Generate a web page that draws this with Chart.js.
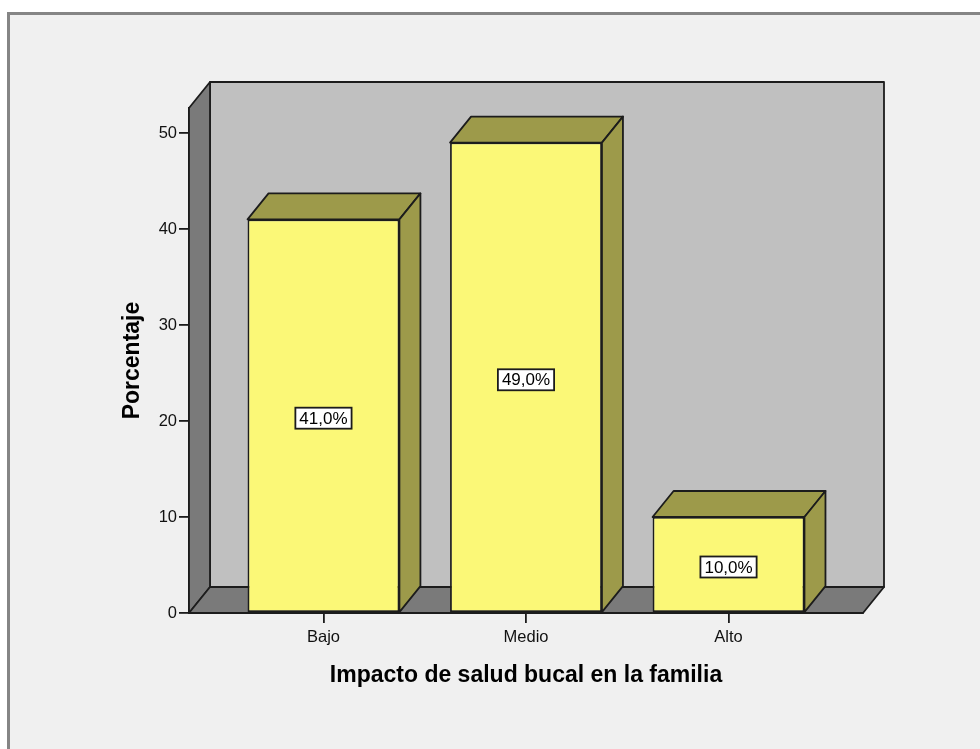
<!DOCTYPE html>
<html>
<head>
<meta charset="utf-8">
<title>Impacto de salud bucal en la familia</title>
<script src="https://cdn.jsdelivr.net/npm/chart.js@4.4.1/dist/chart.umd.min.js"></script>
<style>
  html, body { margin: 0; padding: 0; background: #fff; }
  canvas { display: block; }
</style>
</head>
<body>
<canvas id="chart" width="980" height="749"></canvas>
<script>
const categories = ['Bajo', 'Medio', 'Alto'];
const percentages = [41.0, 49.0, 10.0];
const yTicks = [0, 10, 20, 30, 40, 50];

const FONT = "'Liberation Sans', Arial, Helvetica, sans-serif";
// offset of the back plane, in pixels
const DX = 21, DY = -26;
const FRONT = '#fbf877';
const SHADE = '#9d9a4a';
const WALL = '#c0c0c0';
const FLOOR = '#7a7a7a';
const EDGE = '#1c1c1c';
const LW = 1.8;

function poly(ctx, pts, fill) {
  ctx.beginPath();
  ctx.moveTo(pts[0][0], pts[0][1]);
  for (let i = 1; i < pts.length; i++) ctx.lineTo(pts[i][0], pts[i][1]);
  ctx.closePath();
  ctx.fillStyle = fill;
  ctx.fill();
  ctx.stroke();
}

// grey panel with a border along the top and left
const frame = {
  id: 'frame',
  beforeDraw(chart) {
    const ctx = chart.ctx;
    ctx.save();
    ctx.fillStyle = '#fff';
    ctx.fillRect(0, 0, chart.width, chart.height);
    ctx.fillStyle = '#f0f0f0';
    ctx.fillRect(7, 12, chart.width, chart.height);
    ctx.strokeStyle = '#858585';
    ctx.lineWidth = 3;
    ctx.beginPath();
    ctx.moveTo(8.5, chart.height + 5);
    ctx.lineTo(8.5, 13.5);
    ctx.lineTo(chart.width + 5, 13.5);
    ctx.stroke();
    ctx.restore();
  }
};

// back wall, side wall, floor and the top/right faces of each bar
const box3d = {
  id: 'box3d',
  beforeDatasetsDraw(chart) {
    const ctx = chart.ctx;
    const a = chart.chartArea;
    const y0 = chart.scales.y.getPixelForValue(0);
    ctx.save();
    ctx.strokeStyle = EDGE;
    ctx.lineWidth = LW;
    ctx.lineJoin = 'round';
    poly(ctx, [[a.left + DX, a.top + DY], [a.right + DX, a.top + DY], [a.right + DX, y0 + DY], [a.left + DX, y0 + DY]], WALL);
    poly(ctx, [[a.left, a.top], [a.left + DX, a.top + DY], [a.left + DX, y0 + DY], [a.left, y0]], FLOOR);
    poly(ctx, [[a.left, y0], [a.left + DX, y0 + DY], [a.right + DX, y0 + DY], [a.right, y0]], FLOOR);
    chart.getDatasetMeta(0).data.forEach(bar => {
      const { x, y, base, width } = bar.getProps(['x', 'y', 'base', 'width'], true);
      const l = x - width / 2, r = x + width / 2;
      poly(ctx, [[l, y], [l + DX, y + DY], [r + DX, y + DY], [r, y]], SHADE);
      poly(ctx, [[r, y], [r + DX, y + DY], [r + DX, base + DY], [r, base]], SHADE);
    });
    ctx.restore();
  }
};

// boxed percentage in the middle of each bar
const valueBoxes = {
  id: 'valueBoxes',
  afterDatasetsDraw(chart) {
    const ctx = chart.ctx;
    const yScale = chart.scales.y;
    ctx.save();
    ctx.font = '17px ' + FONT;
    ctx.textAlign = 'center';
    ctx.textBaseline = 'middle';
    chart.getDatasetMeta(0).data.forEach((bar, i) => {
      const v = percentages[i];
      const text = v.toFixed(1).replace('.', ',') + '%';
      const cy = yScale.getPixelForValue(v / 2) + 2;
      const w = ctx.measureText(text).width + 8, h = 21;
      ctx.fillStyle = '#fff';
      ctx.fillRect(bar.x - w / 2, cy - h / 2, w, h);
      ctx.strokeStyle = EDGE;
      ctx.lineWidth = LW;
      ctx.strokeRect(bar.x - w / 2, cy - h / 2, w, h);
      ctx.fillStyle = '#000';
      ctx.fillText(text, bar.x, cy + 1);
    });
    ctx.restore();
  }
};

new Chart(document.getElementById('chart'), {
  type: 'bar',
  data: {
    datasets: [{
      data: percentages.map((v, i) => ({ x: i, y: v })),
      backgroundColor: FRONT,
      borderColor: EDGE,
      borderWidth: LW,
      borderSkipped: false,
      categoryPercentage: 1,
      barPercentage: 0.75
    }]
  },
  options: {
    responsive: false,
    animation: false,
    layout: { padding: { left: 108, top: 108, right: 117, bottom: 46 } },
    plugins: { legend: { display: false }, tooltip: { enabled: false } },
    scales: {
      x: {
        type: 'linear',
        offset: false,
        bounds: 'data',
        min: -0.664,
        max: 2.664,
        afterBuildTicks: s => { s.ticks = categories.map((_, i) => ({ value: i })); },
        afterFit: s => { s.height = 90; },
        grid: { offset: false, drawOnChartArea: false, drawTicks: true, tickLength: 10, color: EDGE, lineWidth: LW },
        border: { display: true, color: EDGE, width: LW },
        ticks: {
          autoSkip: false, maxRotation: 0, padding: 5, color: '#111',
          font: { family: FONT, size: 16.5 },
          callback: v => categories[v]
        },
        title: {
          display: true, text: 'Impacto de salud bucal en la familia', color: '#000',
          font: { family: FONT, size: 23, weight: 'bold' },
          padding: { top: 0, bottom: 14 }
        }
      },
      y: {
        min: 0,
        max: 52.6,
        afterBuildTicks: s => { s.ticks = yTicks.map(v => ({ value: v })); },
        afterFit: s => { s.width = 189 - 108; },
        grid: { drawOnChartArea: false, drawTicks: true, tickLength: 10, color: EDGE, lineWidth: LW },
        border: { display: true, color: EDGE, width: LW },
        ticks: { padding: 2, color: '#111', font: { family: FONT, size: 16.5 } },
        title: {
          display: true, text: 'Porcentaje', color: '#000',
          font: { family: FONT, size: 23, weight: 'bold' },
          padding: { top: 11, bottom: 0 }
        }
      }
    }
  },
  plugins: [frame, box3d, valueBoxes]
});
</script>
</body>
</html>
